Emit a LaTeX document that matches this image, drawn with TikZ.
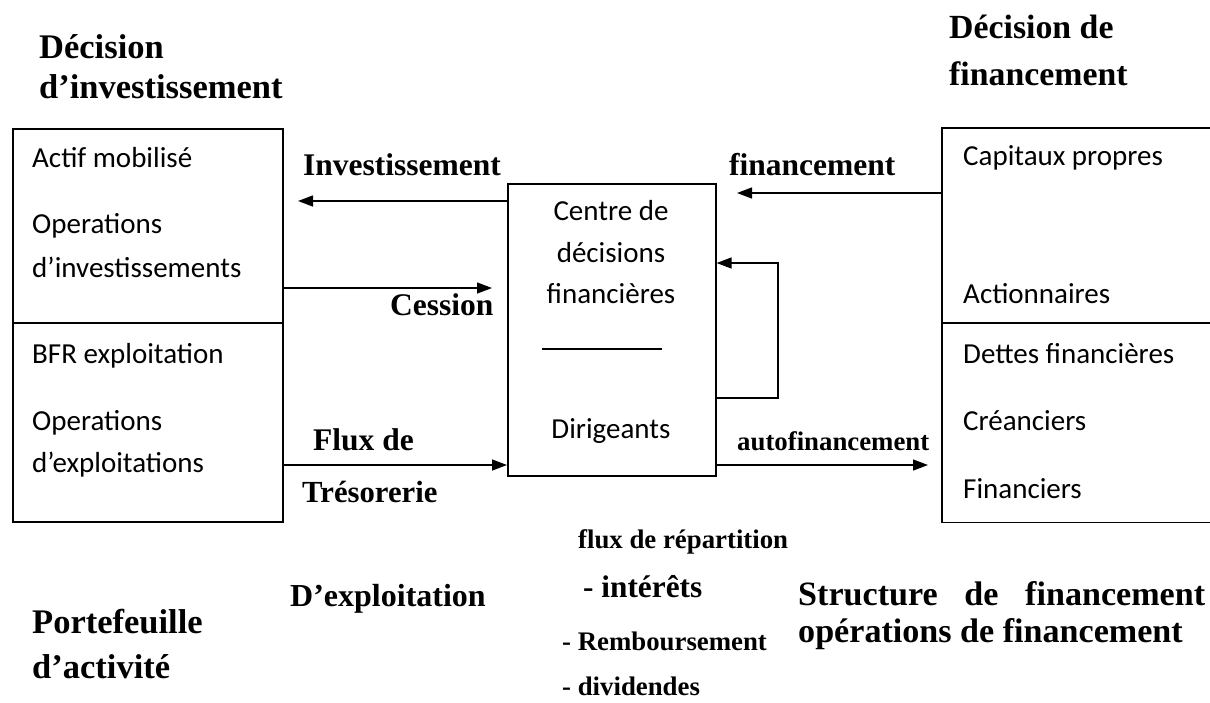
\documentclass[tikz,border=0pt]{standalone}
\usepackage{fontspec}
\setmainfont{Liberation Serif}
\newfontfamily\calfont{Carlito}
\usetikzlibrary{arrows.meta}
\begin{document}
\begin{tikzpicture}[x=1pt,y=-1pt,
  box/.style={line width=1.6pt, inner sep=0pt, anchor=north west},
  ctxt/.style={font=\calfont\fontsize{29}{35}\selectfont, anchor=base west, inner sep=0pt},
  cctxt/.style={font=\calfont\fontsize{29}{35}\selectfont, anchor=base, inner sep=0pt},
  lbl/.style={font=\bfseries\fontsize{31.5}{36}\selectfont, anchor=base west, inner sep=0pt},
  big/.style={font=\bfseries\fontsize{34.5}{40}\selectfont, anchor=base west, inner sep=0pt},
  small/.style={font=\bfseries\fontsize{26.8}{32}\selectfont, anchor=base west, inner sep=0pt},
  arr/.style={line width=1.4pt, -{Triangle[length=15pt,width=11pt]}}]
\useasboundingbox (0,0) rectangle (1210,702);

% boxes
\node[box, draw, minimum width=270pt, minimum height=393pt] (lbox) at (12,128) {};
\node[box, draw, minimum width=208pt, minimum height=292pt] (cbox) at (507,183) {};
\node[box, minimum width=268pt, minimum height=393pt] (rbox) at (942,128) {};
\draw[line width=1.6pt] (rbox.north east) -- (rbox.north west) -- (rbox.south west) -- (rbox.south east);
\coordinate (div) at (0,323);
\draw[line width=2.6pt] (lbox.west |- div) -- (lbox.east |- div);
\draw[line width=2.6pt] (rbox.west |- div) -- (rbox.east |- div);
\coordinate (cl1) at (542,349);
\coordinate (cl2) at (662,349);
\draw[line width=1.3pt] (cl1) -- (cl2);

% titles
\node[big] (t1) at (39,58) {Décision};
\node[big] (t2) at (39,98) {d’investissement};
\node[big, font=\bfseries\fontsize{33.8}{40}\selectfont] (t3) at (949,38) {Décision de};
\node[big, font=\bfseries\fontsize{33.8}{40}\selectfont] (t4) at (949,85) {financement};

% left box texts
\node[ctxt] (l1) at (32,167) {Actif mobilisé};
\node[ctxt] (l2) at (32,233) {Operations};
\node[ctxt] (l3) at (32,277) {d’investissements};
\node[ctxt] (l4) at (32,363) {BFR exploitation};
\node[ctxt] (l5) at (32,430) {Operations};
\node[ctxt] (l6) at (32,472) {d’exploitations};

% centre texts
\node[cctxt] (c1) at (611,220) {Centre de};
\node[cctxt] (c2) at (611,262) {décisions};
\node[cctxt] (c3) at (611,303) {financières};
\node[cctxt] (c4) at (611,438) {Dirigeants};

% right box texts
\node[ctxt] (r1) at (963,165) {Capitaux propres};
\node[ctxt] (r2) at (963,303) {Actionnaires};
\node[ctxt] (r3) at (963,363) {Dettes financières};
\node[ctxt] (r4) at (963,430) {Créanciers};
\node[ctxt] (r5) at (963,498) {Financiers};

% arrow labels
\node[lbl] (a1) at (303,175) {Investissement};
\node[lbl] (a2) at (390,315) {Cession};
\node[lbl] (a3) at (313,450) {Flux de};
\node[lbl, font=\bfseries\fontsize{30.7}{36}\selectfont] (a4) at (302,502) {Trésorerie};
\node[lbl] (a5) at (729,175) {financement};
\node[small] (a6) at (737,450) {autofinancement};

% bottom texts
\node[big] (b1) at (32,633) {Portefeuille};
\node[big] (b2) at (32,678) {d’activité};
\node[lbl, font=\bfseries\fontsize{32}{36}\selectfont] (b3) at (290,606) {D’exploitation};
\node[small] (b4) at (578,548) {flux de répartition};
\node[lbl, font=\bfseries\fontsize{31.3}{36}\selectfont] (b5) at (583,597) {- intérêts};
\node[small] (b6) at (562,650) {- Remboursement};
\node[small] (b7) at (562,695) {- dividendes};
\node[big, font=\bfseries\fontsize{34.1}{40}\selectfont] (b8) at (798,605) {\makebox[407pt][s]{Structure de financement}};
\node[big, font=\bfseries\fontsize{34.1}{40}\selectfont] (b9) at (798,642) {opérations de financement};

% connectors
\coordinate (invtip) at (298,201);
\draw[arr] (cbox.west |- invtip) -- (invtip);
\coordinate (cestip) at (492,288);
\draw[arr] (lbox.east |- cestip) -- (cestip);
\coordinate (flux) at (0,465);
\draw[arr] (lbox.east |- flux) -- (cbox.west |- flux);
\coordinate (fintip) at (737,193);
\draw[arr] (rbox.west |- fintip) -- (fintip);
\coordinate (loopa) at (778,398);
\coordinate (loopb) at (778,263);
\draw[arr] (cbox.east |- loopa) -- (loopa) -- (loopb) -- (cbox.east |- loopb);
\coordinate (autotip) at (928,465);
\draw[arr] (cbox.east |- autotip) -- (autotip);
\end{tikzpicture}
\end{document}
